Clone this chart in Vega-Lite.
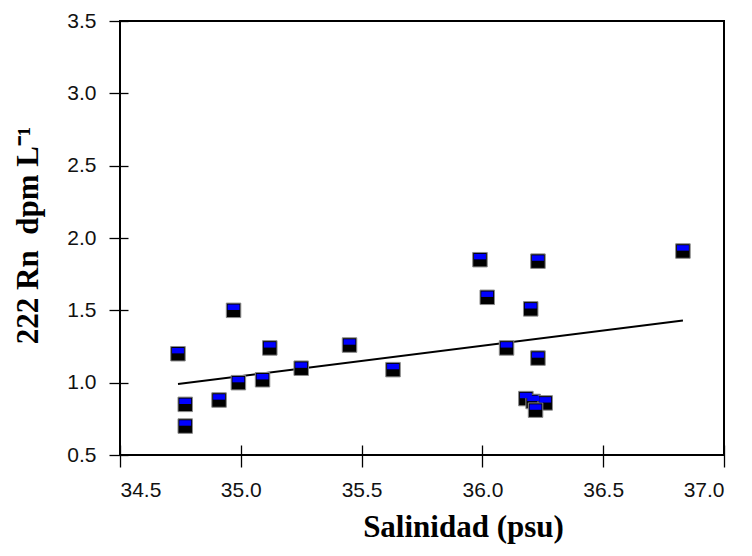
{
  "$schema": "https://vega.github.io/schema/vega-lite/v6.json",
  "width": 604,
  "height": 434,
  "autosize": {"type": "none"},
  "padding": {"left": 120, "top": 21, "right": 28, "bottom": 101},
  "background": "white",
  "config": {
    "view": {"stroke": "black", "strokeWidth": 2},
    "axis": {
      "domain": false,
      "grid": false,
      "tickColor": "black",
      "tickWidth": 1.3,
      "labelFont": "Liberation Sans",
      "labelFontSize": 21,
      "labelColor": "#111",
      "titleFont": "Liberation Serif",
      "titleFontWeight": "bold",
      "titleFontSize": 31,
      "titleColor": "black"
    }
  },
  "datasets": {
    "pts": [
      {"sal": 34.74, "rn": 1.20},
      {"sal": 34.77, "rn": 0.70},
      {"sal": 34.77, "rn": 0.85},
      {"sal": 34.91, "rn": 0.88},
      {"sal": 34.97, "rn": 1.50},
      {"sal": 34.99, "rn": 1.00},
      {"sal": 35.09, "rn": 1.02},
      {"sal": 35.12, "rn": 1.24},
      {"sal": 35.25, "rn": 1.10},
      {"sal": 35.45, "rn": 1.26},
      {"sal": 35.63, "rn": 1.09},
      {"sal": 35.99, "rn": 1.85},
      {"sal": 36.02, "rn": 1.59},
      {"sal": 36.10, "rn": 1.24},
      {"sal": 36.20, "rn": 1.51},
      {"sal": 36.23, "rn": 1.84},
      {"sal": 36.23, "rn": 1.17},
      {"sal": 36.18, "rn": 0.89},
      {"sal": 36.21, "rn": 0.87},
      {"sal": 36.26, "rn": 0.86},
      {"sal": 36.22, "rn": 0.81},
      {"sal": 36.83, "rn": 1.91}
    ],
    "fit": [
      {"sal": 34.74, "rn": 0.99},
      {"sal": 36.83, "rn": 1.43}
    ]
  },
  "layer": [
    {
      "data": {"name": "fit"},
      "mark": {"type": "line", "color": "black", "strokeWidth": 2},
      "encoding": {
        "x": {
          "field": "sal", "type": "quantitative",
          "scale": {"domain": [34.5, 37.0], "nice": false, "zero": false},
          "axis": {
            "title": "Salinidad (psu)",
            "values": [34.5, 35.0, 35.5, 36.0, 36.5, 37.0],
            "format": ".1f",
            "offset": -10,
            "tickSize": 22,
            "labelPadding": 12,
            "titleX": 343,
            "titleY": 91,
            "titleAnchor": null,
            "titleAlign": "center",
            "titleBaseline": "alphabetic"
          }
        },
        "y": {
          "field": "rn", "type": "quantitative",
          "scale": {"domain": [0.5, 3.5], "nice": false, "zero": false},
          "axis": {
            "title": "222\u00a0Rn\u00a0\u00a0dpm\u00a0L⁻¹",
            "values": [0.5, 1.0, 1.5, 2.0, 2.5, 3.0, 3.5],
            "format": ".1f",
            "offset": -8,
            "tickSize": 19,
            "labelPadding": 13,
            "titleAngle": -90,
            "titleX": -91,
            "titleY": 214,
            "titleAlign": "center",
            "titleBaseline": "alphabetic"
          }
        }
      }
    },
    {
      "data": {"name": "pts"},
      "mark": {"type": "point", "shape": "M-1,-1H1V1H-1Z", "size": 210, "filled": true, "fill": "black", "stroke": "#8a8a8a", "strokeWidth": 1, "opacity": 1},
      "encoding": {
        "x": {"field": "sal", "type": "quantitative"},
        "y": {"field": "rn", "type": "quantitative"}
      }
    },
    {
      "data": {"name": "pts"},
      "mark": {"type": "point", "shape": "M-0.82,-0.8H0.82V-0.05H-0.82Z", "size": 210, "filled": true, "fill": "#0000ff", "strokeWidth": 0, "opacity": 1},
      "encoding": {
        "x": {"field": "sal", "type": "quantitative"},
        "y": {"field": "rn", "type": "quantitative"}
      }
    }
  ]
}
